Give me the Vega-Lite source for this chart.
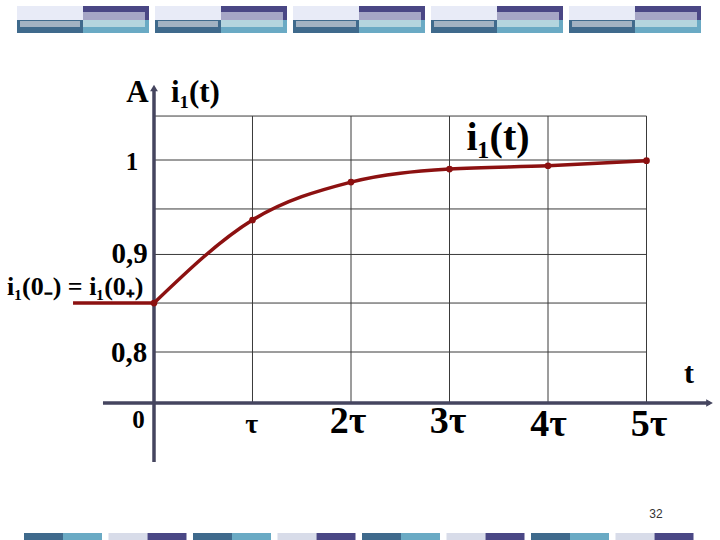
{
  "$schema": "https://vega.github.io/schema/vega-lite/v6.json",
  "width": 720,
  "height": 540,
  "autosize": "none",
  "padding": 0,
  "background": "white",
  "config": {"view": {"stroke": null}},
  "datasets": {
    "deco": [
      {"t": -1.3909, "t2": -0.7208, "v": 1.14583, "v2": 1.16042, "part": "light"},
      {"t": -1.3909, "t2": -0.7208, "v": 1.13229, "v2": 1.14583, "part": "steel"},
      {"t": -1.3604, "t2": -0.7513, "v": 1.13854, "v2": 1.14479, "part": "steelgray"},
      {"t": -0.7208, "t2": -0.0508, "v": 1.14583, "v2": 1.16042, "part": "indigo"},
      {"t": -0.7208, "t2": -0.0914, "v": 1.14583, "v2": 1.15417, "part": "lavgray"},
      {"t": -0.7208, "t2": -0.0508, "v": 1.13229, "v2": 1.14583, "part": "teal"},
      {"t": -0.7208, "t2": -0.0914, "v": 1.13854, "v2": 1.14583, "part": "tealight"},

      {"t": 0.0102, "t2": 0.6802, "v": 1.14583, "v2": 1.16042, "part": "light"},
      {"t": 0.0102, "t2": 0.6802, "v": 1.13229, "v2": 1.14583, "part": "steel"},
      {"t": 0.0406, "t2": 0.6497, "v": 1.13854, "v2": 1.14479, "part": "steelgray"},
      {"t": 0.6802, "t2": 1.3503, "v": 1.14583, "v2": 1.16042, "part": "indigo"},
      {"t": 0.6802, "t2": 1.3096, "v": 1.14583, "v2": 1.15417, "part": "lavgray"},
      {"t": 0.6802, "t2": 1.3503, "v": 1.13229, "v2": 1.14583, "part": "teal"},
      {"t": 0.6802, "t2": 1.3096, "v": 1.13854, "v2": 1.14583, "part": "tealight"},

      {"t": 1.4112, "t2": 2.0812, "v": 1.14583, "v2": 1.16042, "part": "light"},
      {"t": 1.4112, "t2": 2.0812, "v": 1.13229, "v2": 1.14583, "part": "steel"},
      {"t": 1.4416, "t2": 2.0508, "v": 1.13854, "v2": 1.14479, "part": "steelgray"},
      {"t": 2.0812, "t2": 2.7513, "v": 1.14583, "v2": 1.16042, "part": "indigo"},
      {"t": 2.0812, "t2": 2.7107, "v": 1.14583, "v2": 1.15417, "part": "lavgray"},
      {"t": 2.0812, "t2": 2.7513, "v": 1.13229, "v2": 1.14583, "part": "teal"},
      {"t": 2.0812, "t2": 2.7107, "v": 1.13854, "v2": 1.14583, "part": "tealight"},

      {"t": 2.8122, "t2": 3.4822, "v": 1.14583, "v2": 1.16042, "part": "light"},
      {"t": 2.8122, "t2": 3.4822, "v": 1.13229, "v2": 1.14583, "part": "steel"},
      {"t": 2.8426, "t2": 3.4518, "v": 1.13854, "v2": 1.14479, "part": "steelgray"},
      {"t": 3.4822, "t2": 4.1523, "v": 1.14583, "v2": 1.16042, "part": "indigo"},
      {"t": 3.4822, "t2": 4.1117, "v": 1.14583, "v2": 1.15417, "part": "lavgray"},
      {"t": 3.4822, "t2": 4.1523, "v": 1.13229, "v2": 1.14583, "part": "teal"},
      {"t": 3.4822, "t2": 4.1117, "v": 1.13854, "v2": 1.14583, "part": "tealight"},

      {"t": 4.2132, "t2": 4.8832, "v": 1.14583, "v2": 1.16042, "part": "light"},
      {"t": 4.2132, "t2": 4.8832, "v": 1.13229, "v2": 1.14583, "part": "steel"},
      {"t": 4.2437, "t2": 4.8528, "v": 1.13854, "v2": 1.14479, "part": "steelgray"},
      {"t": 4.8832, "t2": 5.5533, "v": 1.14583, "v2": 1.16042, "part": "indigo"},
      {"t": 4.8832, "t2": 5.5127, "v": 1.14583, "v2": 1.15417, "part": "lavgray"},
      {"t": 4.8832, "t2": 5.5533, "v": 1.13229, "v2": 1.14583, "part": "teal"},
      {"t": 4.8832, "t2": 5.5127, "v": 1.13854, "v2": 1.14583, "part": "tealight"},

      {"t": -1.3198, "t2": -0.9239, "v": 0.60417, "v2": 0.61146, "part": "steel"},
      {"t": -0.9239, "t2": -0.5279, "v": 0.60417, "v2": 0.61146, "part": "teal"},
      {"t": -0.4619, "t2": -0.0660, "v": 0.60417, "v2": 0.61146, "part": "blight"},
      {"t": -0.0660, "t2": 0.3299, "v": 0.60417, "v2": 0.61146, "part": "indigo"},
      {"t": 0.3959, "t2": 0.7919, "v": 0.60417, "v2": 0.61146, "part": "steel"},
      {"t": 0.7919, "t2": 1.1878, "v": 0.60417, "v2": 0.61146, "part": "teal"},
      {"t": 1.2538, "t2": 1.6497, "v": 0.60417, "v2": 0.61146, "part": "blight"},
      {"t": 1.6497, "t2": 2.0457, "v": 0.60417, "v2": 0.61146, "part": "indigo"},
      {"t": 2.1117, "t2": 2.5076, "v": 0.60417, "v2": 0.61146, "part": "steel"},
      {"t": 2.5076, "t2": 2.9036, "v": 0.60417, "v2": 0.61146, "part": "teal"},
      {"t": 2.9695, "t2": 3.3655, "v": 0.60417, "v2": 0.61146, "part": "blight"},
      {"t": 3.3655, "t2": 3.7614, "v": 0.60417, "v2": 0.61146, "part": "indigo"},
      {"t": 3.8274, "t2": 4.2234, "v": 0.60417, "v2": 0.61146, "part": "steel"},
      {"t": 4.2234, "t2": 4.6193, "v": 0.60417, "v2": 0.61146, "part": "teal"},
      {"t": 4.6853, "t2": 5.0812, "v": 0.60417, "v2": 0.61146, "part": "blight"},
      {"t": 5.0812, "t2": 5.4772, "v": 0.60417, "v2": 0.61146, "part": "indigo"}
    ],
    "gridh": [
      {"t": 0, "t2": 5, "v": 0.8},
      {"t": 0, "t2": 5, "v": 0.851},
      {"t": 0, "t2": 5, "v": 0.9016},
      {"t": 0, "t2": 5, "v": 0.949},
      {"t": 0, "t2": 5, "v": 1.0},
      {"t": 0, "t2": 5, "v": 1.0458}
    ],
    "gridv": [
      {"t": 1, "v": 0.746875, "v2": 1.0458},
      {"t": 2, "v": 0.746875, "v2": 1.0458},
      {"t": 3, "v": 0.746875, "v2": 1.0458},
      {"t": 4, "v": 0.746875, "v2": 1.0458},
      {"t": 5, "v": 0.746875, "v2": 1.0458}
    ],
    "curve": [
      {"t": 0, "v": 0.851},
      {"t": 1, "v": 0.9375},
      {"t": 2, "v": 0.977},
      {"t": 3, "v": 0.9906},
      {"t": 4, "v": 0.994},
      {"t": 5, "v": 0.9993}
    ],
    "before": [
      {"t": -0.822, "v": 0.851},
      {"t": 0, "v": 0.851}
    ],
    "arrows": [
      {"t": 0, "v": 1.075, "dir": "up"},
      {"t": 5.64, "v": 0.746875, "dir": "right"}
    ],
    "labels": [
      {"t": -0.1675, "v": 1.06073, "text": "A", "g": "axisname"},
      {"t": 0.4213, "v": 1.06073, "text": "i₁(t)", "g": "axisname"},
      {"t": -0.2234, "v": 0.98958, "text": "1", "g": "one"},
      {"t": -0.2487, "v": 0.89271, "text": "0,9", "g": "ylab"},
      {"t": -0.2538, "v": 0.78958, "text": "0,8", "g": "ylab"},
      {"t": -0.1574, "v": 0.72083, "text": "0", "g": "zero"},
      {"t": 0.9919, "v": 0.715625, "text": "τ", "g": "tau1"},
      {"t": 1.9695, "v": 0.715625, "text": "2τ", "g": "taus"},
      {"t": 2.9848, "v": 0.715625, "text": "3τ", "g": "taus"},
      {"t": 4.0051, "v": 0.7125, "text": "4τ", "g": "taus"},
      {"t": 5.0254, "v": 0.7125, "text": "5τ", "g": "taus"},
      {"t": 5.4315, "v": 0.76771, "text": "t", "g": "tname"},
      {"t": 3.4924, "v": 1.01042, "text": "i₁(t)", "g": "curvename"},
      {"t": -1.4924, "v": 0.859375, "text": "i₁(0₋)   =   i₁(0₊)", "g": "init"},
      {"t": 5.0964, "v": 0.62708, "text": "32", "g": "page"}
    ]
  },
  "encoding": {
    "x": {"field": "t", "type": "quantitative", "scale": {"domain": [-1.56345, 5.74619], "nice": false, "zero": false}, "axis": null},
    "y": {"field": "v", "type": "quantitative", "scale": {"domain": [0.604167, 1.166667], "nice": false, "zero": false}, "axis": null}
  },
  "layer": [
    {
      "data": {"name": "deco"},
      "mark": {"type": "rect"},
      "encoding": {
        "x2": {"field": "t2"},
        "y2": {"field": "v2"},
        "color": {"field": "part", "type": "nominal", "legend": null,
          "scale": {"domain": ["light", "steel", "steelgray", "indigo", "lavgray", "teal", "tealight", "blight"],
                    "range": ["#e8ebf7", "#3f6a8c", "#a2b2c2", "#4a4785", "#a6a6c6", "#6aaac4", "#b4d5de", "#d8dce9"]}}
      }
    },
    {
      "data": {"name": "gridh"},
      "mark": {"type": "rule", "color": "#3a3a3a", "strokeWidth": 1},
      "encoding": {"x2": {"field": "t2"}}
    },
    {
      "data": {"name": "gridv"},
      "mark": {"type": "rule", "color": "#3a3a3a", "strokeWidth": 1},
      "encoding": {"y2": {"field": "v2"}}
    },
    {
      "data": {"values": [{"t": 0, "v": 0.68542, "v2": 1.075}]},
      "mark": {"type": "rule", "color": "#45455f", "strokeWidth": 3.5},
      "encoding": {"y2": {"field": "v2"}}
    },
    {
      "data": {"values": [{"t": -0.518, "t2": 5.64, "v": 0.746875}]},
      "mark": {"type": "rule", "color": "#45455f", "strokeWidth": 3.5},
      "encoding": {"x2": {"field": "t2"}}
    },
    {
      "data": {"name": "arrows"},
      "mark": {"type": "point", "filled": true, "color": "#45455f", "opacity": 1, "size": 60},
      "encoding": {
        "shape": {"field": "dir", "type": "nominal", "legend": null,
          "scale": {"domain": ["up", "right"], "range": ["triangle-up", "triangle-right"]}}
      }
    },
    {
      "data": {"name": "before"},
      "mark": {"type": "line", "color": "#8c1111", "strokeWidth": 3.5}
    },
    {
      "data": {"name": "curve"},
      "mark": {"type": "line", "color": "#8c1111", "strokeWidth": 3.5, "interpolate": "monotone"}
    },
    {
      "data": {"name": "curve"},
      "mark": {"type": "point", "filled": true, "color": "#8c1111", "opacity": 1, "size": 45}
    },
    {
      "data": {"name": "labels"},
      "transform": [{"filter": "datum.g == 'axisname'"}],
      "mark": {"type": "text", "font": "Liberation Serif", "fontWeight": "bold", "fontSize": 31, "align": "center", "baseline": "alphabetic", "color": "#000"},
      "encoding": {"text": {"field": "text"}}
    },
    {
      "data": {"name": "labels"},
      "transform": [{"filter": "datum.g == 'one'"}],
      "mark": {"type": "text", "font": "Liberation Serif", "fontWeight": "bold", "fontSize": 25, "align": "center", "baseline": "alphabetic", "color": "#000"},
      "encoding": {"text": {"field": "text"}}
    },
    {
      "data": {"name": "labels"},
      "transform": [{"filter": "datum.g == 'ylab'"}],
      "mark": {"type": "text", "font": "Liberation Serif", "fontWeight": "bold", "fontSize": 29, "align": "center", "baseline": "alphabetic", "color": "#000"},
      "encoding": {"text": {"field": "text"}}
    },
    {
      "data": {"name": "labels"},
      "transform": [{"filter": "datum.g == 'zero'"}],
      "mark": {"type": "text", "font": "Liberation Serif", "fontWeight": "bold", "fontSize": 25, "align": "center", "baseline": "alphabetic", "color": "#000"},
      "encoding": {"text": {"field": "text"}}
    },
    {
      "data": {"name": "labels"},
      "transform": [{"filter": "datum.g == 'tau1'"}],
      "mark": {"type": "text", "font": "Liberation Serif", "fontWeight": "bold", "fontSize": 28, "align": "center", "baseline": "alphabetic", "color": "#000"},
      "encoding": {"text": {"field": "text"}}
    },
    {
      "data": {"name": "labels"},
      "transform": [{"filter": "datum.g == 'taus'"}],
      "mark": {"type": "text", "font": "Liberation Serif", "fontWeight": "bold", "fontSize": 38, "align": "center", "baseline": "alphabetic", "color": "#000"},
      "encoding": {"text": {"field": "text"}}
    },
    {
      "data": {"name": "labels"},
      "transform": [{"filter": "datum.g == 'tname'"}],
      "mark": {"type": "text", "font": "Liberation Serif", "fontWeight": "bold", "fontSize": 30, "align": "center", "baseline": "alphabetic", "color": "#000"},
      "encoding": {"text": {"field": "text"}}
    },
    {
      "data": {"name": "labels"},
      "transform": [{"filter": "datum.g == 'curvename'"}],
      "mark": {"type": "text", "font": "Liberation Serif", "fontWeight": "bold", "fontSize": 40, "align": "center", "baseline": "alphabetic", "color": "#000"},
      "encoding": {"text": {"field": "text"}}
    },
    {
      "data": {"name": "labels"},
      "transform": [{"filter": "datum.g == 'init'"}],
      "mark": {"type": "text", "font": "Liberation Serif", "fontWeight": "bold", "fontSize": 26, "align": "left", "baseline": "alphabetic", "color": "#000"},
      "encoding": {"text": {"field": "text"}}
    },
    {
      "data": {"name": "labels"},
      "transform": [{"filter": "datum.g == 'page'"}],
      "mark": {"type": "text", "font": "Liberation Sans", "fontSize": 12, "align": "center", "baseline": "alphabetic", "color": "#333"},
      "encoding": {"text": {"field": "text"}}
    }
  ]
}
